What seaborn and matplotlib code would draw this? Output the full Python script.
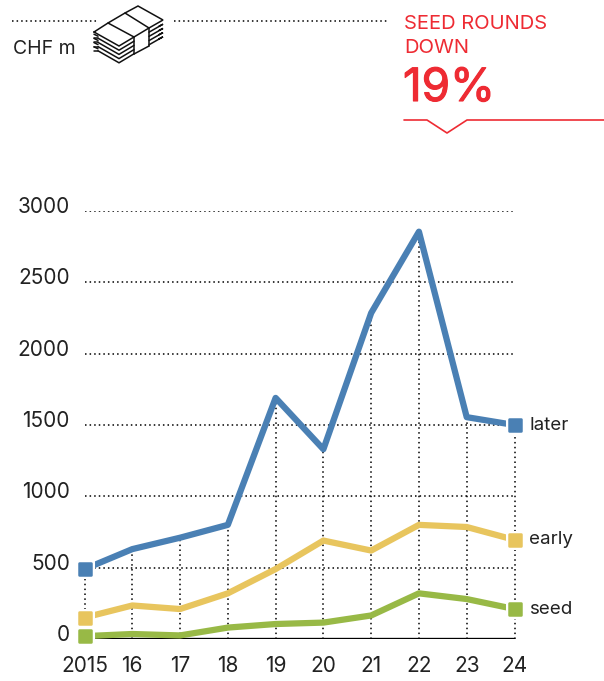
import numpy as np
import pandas as pd
import seaborn as sns
import matplotlib.pyplot as plt
import matplotlib.patheffects as pe
from matplotlib.markers import MarkerStyle
from matplotlib.transforms import ScaledTranslation

W, H = 604, 681

years = [2015, 2016, 2017, 2018, 2019, 2020, 2021, 2022, 2023, 2024]
year_labels = ["2015", "16", "17", "18", "19", "20", "21", "22", "23", "24"]
later = [490, 630, 710, 800, 1690, 1330, 2285, 2855, 1555, 1500]
early = [150, 235, 210, 320, 490, 690, 620, 800, 785, 695]
seed = [20, 35, 25, 80, 105, 115, 165, 320, 280, 210]
y_ticks = [0, 500, 1000, 1500, 2000, 2500, 3000]

BLUE = "#4a80b4"
YELLOW = "#e8c55e"
GREEN = "#98b946"
RED = "#ee2b33"
INK = "#222222"

sns.set_style("white")
plt.rcParams["font.family"] = ["Inter", "DejaVu Sans"]

df = pd.DataFrame({"year": years, "later": later, "early": early, "seed": seed})
df = df.melt(id_vars="year", var_name="stage", value_name="chf")

fig = plt.figure(figsize=(W / 100, H / 100), dpi=100)
ax = fig.add_axes([84.5 / W, 1 - 639 / H, 430 / W, 428 / H])

# dotted grid first, verticals stop at the later line
for t in y_ticks[1:]:
    ax.axhline(t, color="black", lw=1.1, ls=(0, (1, 2)), zorder=1)
ax.vlines(years, 0, later, color="black", lw=1.1, ls=(0, (1, 2.2)), zorder=1, clip_on=False)
ax.axhline(0, color="black", lw=2.4, zorder=2)

sns.lineplot(data=df, x="year", y="chf", hue="stage",
             hue_order=["later", "early", "seed"],
             palette=[BLUE, YELLOW, GREEN], lw=4.5, legend=False, ax=ax,
             clip_on=False, zorder=3)

# rounded square end markers with a thin white halo
sq = MarkerStyle("s", joinstyle="round")
for vals, col in [(later, BLUE), (early, YELLOW), (seed, GREEN)]:
    ax.plot([years[0], years[-1]], [vals[0], vals[-1]], ls="", marker=sq, ms=11,
            color="white", mec="white", mew=2.2, clip_on=False, zorder=4)
    ax.plot([years[0], years[-1]], [vals[0], vals[-1]], ls="", marker=sq, ms=8,
            color=col, mec=col, mew=1.8, clip_on=False, zorder=5)

ax.set_xlim(2015, 2024)
ax.set_ylim(0, 3000)
ax.set_xlabel("")
ax.set_ylabel("")
ax.set_xticks(years)
ax.set_xticklabels(year_labels)
ax.set_yticks(y_ticks)
ax.tick_params(axis="both", length=0, labelsize=15, labelcolor=INK)
ax.tick_params(axis="x", pad=12.5)
ax.tick_params(axis="y", pad=10.5)
ax.patch.set_alpha(0)
sns.despine(ax=ax, left=True, bottom=True)
# y labels sit a little above their gridline
lift = ScaledTranslation(0, 6 / 100, fig.dpi_scale_trans)
for label in ax.get_yticklabels():
    label.set_transform(label.get_transform() + lift)

for name, vals in [("later", later), ("early", early), ("seed", seed)]:
    ax.annotate(name, (2024, vals[-1]), xytext=(10.5, 0), textcoords="offset points",
                va="center", fontsize=13.5, color=INK, annotation_clip=False)

# header drawn in pixel coordinates
over = fig.add_axes([0, 0, 1, 1])
over.set_xlim(0, W)
over.set_ylim(H, 0)
over.axis("off")
over.patch.set_alpha(0)

over.plot([12, 98], [20.5, 20.5], color="black", lw=1.1, ls=(0, (1, 2)))
over.plot([174, 388], [20.5, 20.5], color="black", lw=1.1, ls=(0, (1, 2)))
over.text(13, 54, "CHF m", fontsize=14, color=INK, va="baseline")

# banknote icon
ik = dict(color="#111111", lw=1.1, solid_joinstyle="miter")
over.plot([94, 108, 125, 138, 163, 149, 134, 119, 94],
          [32, 23, 13, 6, 20, 28, 37, 46, 32], **ik)
over.plot([108, 134], [23, 37], **ik)
over.plot([125, 149], [13, 28], **ik)
over.plot([134, 134], [37, 54], **ik)
over.plot([149, 149], [28, 46], **ik)
over.plot([134, 149], [54, 46], **ik)
for dy in [4.2, 8.4, 12.6, 16.8]:
    over.plot([94, 98], [32 + dy - 2, 34 + dy - 2], **ik)
    over.plot([98, 119, 134], [34 + dy, 46 + dy, 37 + dy], **ik)
    over.plot([94, 98], [32 + dy + 2, 34 + dy], **ik)
    over.plot([149, 163, 159], [28 + dy, 20 + dy, 22 + dy], **ik)

over.text(404, 29, "SEED ROUNDS", fontsize=14.5, color=RED, va="baseline")
over.text(404, 53, "DOWN", fontsize=14.5, color=RED, va="baseline")
big = over.text(403, 101, "19%", fontsize=33, color=RED, va="baseline")
big.set_path_effects([pe.withStroke(linewidth=0.8, foreground=RED)])
over.plot([404, 427, 447, 467, 604], [120, 120, 133, 120, 120], color=RED, lw=1.2)

fig.savefig("out.png", dpi=100)
